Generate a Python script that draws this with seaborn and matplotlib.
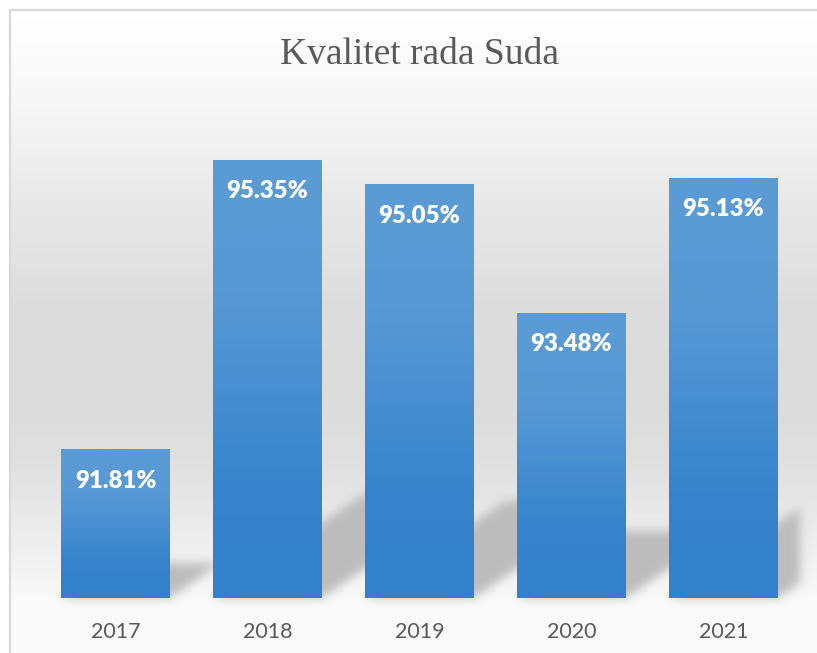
import numpy as np
import pandas as pd
import matplotlib
matplotlib.use("Agg")
import matplotlib.pyplot as plt
import seaborn as sns
from matplotlib.patches import Polygon
from matplotlib.colors import LinearSegmentedColormap
from matplotlib.lines import Line2D

# ---- data ----
years = ["2017", "2018", "2019", "2020", "2021"]
quality = [91.81, 95.35, 95.05, 93.48, 95.13]
value_labels = ["91.81%", "95.35%", "95.05%", "93.48%", "95.13%"]
title = "Kvalitet rada Suda"

df = pd.DataFrame({"year": years, "quality": quality})

sns.set_theme(style="white")
plt.rcParams['font.family'] = ['Lato', 'DejaVu Sans']

W, H = 817, 653
fig = plt.figure(figsize=(W / 100, H / 100), dpi=100)
fig.patch.set_facecolor('white')

# ---- background gradient (chart area) ----
bg_ax = fig.add_axes([0, 0, 1, 1], zorder=0)
rows = np.arange(H)
sy = [0, 10, 100, 200, 300, 400, 470, 530, 570, 600, 653]
sv = [255, 255, 247, 233, 221, 219, 225, 236, 243, 250, 251]
g = np.interp(rows, sy, sv) / 255.0
img = np.repeat(g[:, None], W, axis=1)
img[:9, :] = 1.0
img[:, :9] = 1.0
bg_ax.imshow(np.dstack([img, img, img]), extent=[0, 1, 0, 1], aspect='auto',
             origin='upper', interpolation='bilinear')
bg_ax.set_axis_off()

# border lines
fig.add_artist(Line2D([9.5 / W, 1], [1 - 9.5 / H] * 2, transform=fig.transFigure,
                      color='#d9d9d9', lw=1.6))
fig.add_artist(Line2D([9.5 / W] * 2, [0, 1 - 9.5 / H], transform=fig.transFigure,
                      color='#d9d9d9', lw=1.6))

# ---- main axes ----
ax = fig.add_axes([39.5 / W, 55 / H, 760 / W, 491 / H], zorder=1)
ax.patch.set_alpha(0)

sns.barplot(data=df, x="year", y="quality", ax=ax, width=0.717,
            color="#4a8fd2", saturation=1, edgecolor="none")

YMIN, YMAX = 90, 96
ax.set_ylim(YMIN, YMAX)
ax.set_xlim(-0.5, 4.5)


def blur_filter(sigma, rgb):
    def f(im, dpi):
        pad = int(3 * sigma)
        a = np.pad(im[..., 3], [(pad, pad), (pad, pad)], 'constant')
        k = np.exp(-0.5 * (np.arange(-pad, pad + 1) / sigma) ** 2)
        k /= k.sum()
        out = np.zeros_like(a)
        for j, kv in enumerate(k):
            out += kv * np.roll(a, j - pad, axis=0)
        out2 = np.zeros_like(out)
        for j, kv in enumerate(k):
            out2 += kv * np.roll(out, j - pad, axis=1)
        res = np.zeros(out2.shape + (4,), dtype=im.dtype)
        res[..., 0] = rgb[0]
        res[..., 1] = rgb[1]
        res[..., 2] = rgb[2]
        res[..., 3] = out2
        return res, -pad, -pad
    return f


cmap = LinearSegmentedColormap.from_list(
    "bar", [(0, '#3380cb'), (0.25, '#3784cc'), (0.7, '#5899d5'), (1, '#5b9bd5')])
grad = np.linspace(0, 1, 256)[:, None]

for p, v in zip(ax.patches, quality):
    x0 = p.get_x()
    w = p.get_width()
    h = v - YMIN
    # floor shadow
    dx = 0.183 * h
    dy = 0.235 * h
    poly = Polygon([(x0, YMIN), (x0 + w, YMIN), (x0 + w + dx, YMIN + dy), (x0 + dx, YMIN + dy)],
                   closed=True, facecolor='#bdbdbd', edgecolor='none', zorder=0.5)
    poly.set_agg_filter(blur_filter(5, (0.74, 0.74, 0.74)))
    ax.add_patch(poly)
    # gradient fill
    p.set_alpha(0)
    ax.imshow(grad, extent=[x0, x0 + w, YMIN, v], origin='lower', cmap=cmap,
              aspect='auto', interpolation='bilinear', zorder=2)

ax.set_ylim(YMIN, YMAX)
ax.set_xlim(-0.5, 4.5)

for i, (v, lab) in enumerate(zip(quality, value_labels)):
    ax.annotate(lab, xy=(i, v), xytext=(0, -22.3), textcoords='offset points',
                ha='center', va='center', color='white', fontweight='heavy',
                fontsize=17.3, zorder=3)

ax.set_yticks([])
ax.set_xlabel("")
ax.set_ylabel("")
ax.tick_params(axis='x', length=0, pad=17, labelsize=15.5, labelcolor='#595959')
for s in ax.spines.values():
    s.set_visible(False)

fig.text(0.513, 0.916, title, ha='center', va='center', fontsize=27,
         color='#595959', family=['Liberation Serif'])

fig.savefig("out.png", dpi=100)
